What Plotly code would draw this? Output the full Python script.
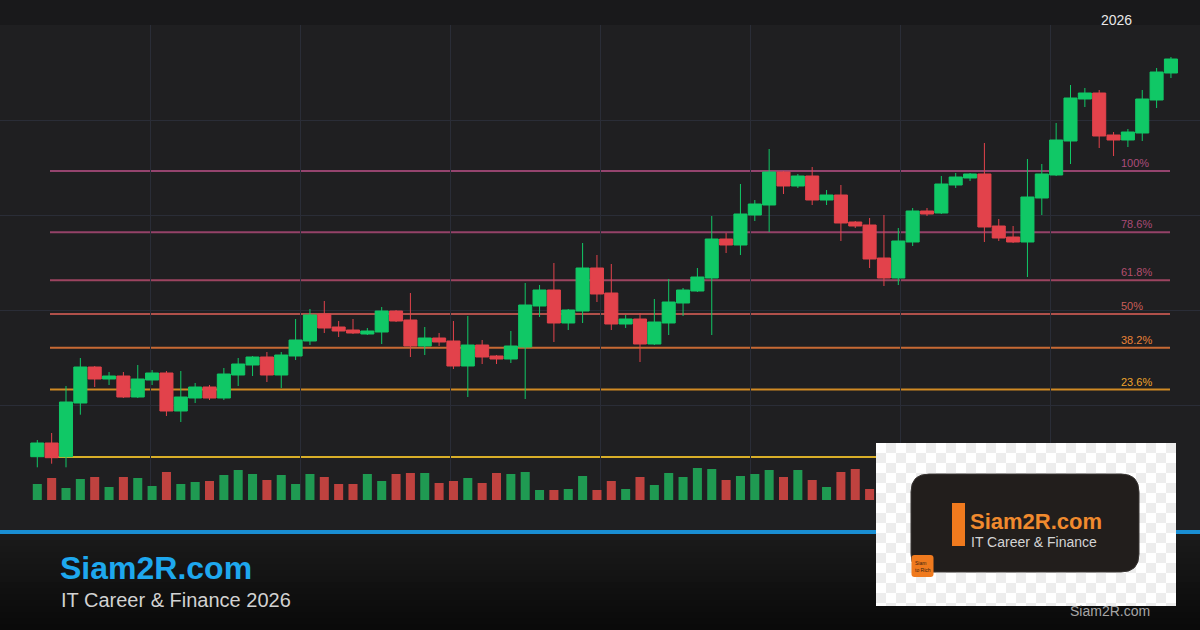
import plotly.graph_objects as go

W, H = 1200, 630

# ---------------- data ----------------
opens = [58.66, 61.4, 58.66, 69.4, 76.6, 74.2, 74.8, 70.6, 74.0, 75.4,
         67.8, 70.4, 72.6, 70.4, 75.0, 77.0, 78.6, 75.0, 78.8, 81.8,
         87.2, 84.6, 84.0, 83.2, 83.6, 87.8, 86.0, 80.8, 82.4, 81.8,
         76.8, 81.0, 78.8, 78.2, 80.6, 88.8, 92.0, 85.4, 87.8, 96.4,
         91.4, 85.2, 86.2, 81.2, 85.4, 89.4, 91.8, 94.4, 102.2, 101.0,
         107.0, 109.0, 115.6, 112.8, 114.8, 110.0, 111.0, 105.6, 105.0, 98.4,
         94.4, 101.6, 107.8, 107.4, 113.0, 114.4, 115.2, 104.8, 102.6, 101.6,
         110.4, 115.0, 121.8, 130.2, 131.4, 123.0, 122.0, 123.4, 130.0, 135.4]
highs = [62.0, 63.4, 72.8, 78.4, 76.8, 75.6, 75.6, 77.0, 76.0, 75.8,
         75.8, 73.4, 73.0, 76.4, 78.4, 78.8, 79.6, 79.6, 86.2, 88.2,
         89.8, 85.8, 86.2, 84.4, 88.6, 88.0, 91.4, 84.6, 83.4, 85.8,
         86.8, 82.0, 79.0, 83.8, 93.4, 93.0, 97.4, 88.2, 101.4, 99.0,
         97.2, 87.0, 87.4, 90.2, 94.2, 92.4, 96.4, 106.8, 103.4, 113.2,
         110.0, 120.2, 115.8, 115.2, 116.6, 112.0, 113.0, 105.8, 106.4, 107.0,
         104.4, 108.4, 108.4, 114.8, 115.4, 115.4, 121.4, 106.2, 104.8, 118.2,
         117.2, 125.4, 133.0, 132.4, 132.0, 123.6, 124.2, 132.0, 136.4, 138.6]
lows = [56.54, 57.26, 56.54, 67.06, 72.6, 73.0, 70.4, 70.4, 73.0, 66.8,
        65.6, 69.4, 70.0, 70.0, 72.8, 74.8, 73.6, 72.4, 78.0, 81.0,
        83.4, 82.6, 83.2, 83.0, 81.2, 85.6, 78.6, 79.0, 80.8, 76.2,
        70.6, 77.2, 77.2, 77.4, 70.2, 86.6, 81.6, 84.0, 85.4, 89.6,
        84.0, 84.4, 77.6, 81.0, 83.0, 86.8, 91.6, 83.0, 99.4, 99.0,
        105.8, 103.6, 111.2, 112.4, 109.0, 109.0, 101.8, 104.4, 96.4, 92.8,
        93.0, 100.8, 106.8, 107.2, 112.4, 113.8, 101.6, 101.8, 101.4, 94.6,
        107.0, 114.8, 117.2, 128.6, 120.4, 118.8, 120.6, 121.8, 128.4, 134.4]
closes = [61.4, 58.46, 69.6, 76.6, 74.2, 74.8, 70.6, 74.2, 75.4, 67.8,
          70.6, 72.6, 70.4, 75.2, 77.2, 78.6, 75.0, 79.0, 82.0, 87.0,
          84.4, 83.8, 83.4, 83.8, 87.8, 85.8, 80.8, 82.4, 81.6, 76.8,
          81.0, 78.6, 78.2, 80.8, 89.0, 92.0, 85.4, 88.0, 96.4, 91.2,
          85.2, 86.2, 81.2, 85.6, 89.6, 92.0, 94.6, 102.2, 101.0, 107.2,
          109.2, 115.6, 112.8, 114.8, 110.0, 111.0, 105.4, 104.8, 98.2, 94.4,
          101.8, 107.8, 107.2, 113.2, 114.6, 115.2, 104.6, 102.4, 101.6, 110.6,
          115.2, 122.0, 130.4, 131.4, 122.8, 122.0, 123.6, 130.2, 135.6, 138.2]
volumes = [1.6, 2.2, 1.2, 2.1, 2.3, 1.3, 2.3, 2.2, 1.4, 2.8,
           1.6, 1.8, 1.9, 2.5, 3.0, 2.6, 2.0, 2.5, 1.6, 2.6,
           2.3, 1.6, 1.6, 2.6, 1.9, 2.6, 2.7, 2.7, 1.7, 1.9,
           2.2, 1.7, 2.7, 2.6, 2.8, 1.0, 1.0, 1.1, 2.4, 1.0,
           1.9, 1.1, 2.3, 1.5, 2.7, 2.3, 3.2, 3.1, 2.0, 2.4,
           2.6, 3.0, 2.3, 3.0, 2.0, 1.3, 2.8, 3.1, 1.1, 2.0,
           1.8, 2.4, 1.2, 2.6, 1.5, 1.2, 3.0, 1.8, 1.4, 3.2,
           2.2, 2.8, 3.0, 1.4, 2.6, 1.5, 1.3, 2.4, 2.2, 2.2]

fib_low, fib_high = 58.6, 115.8
fib_ratios = [0.0, 0.236, 0.382, 0.5, 0.618, 0.786, 1.0]
fib_labels = ["", "23.6%", "38.2%", "50%", "61.8%", "78.6%", "100%"]
fib_colors = ["#d8ae28", "#d08a24", "#c86a34", "#b0504a", "#9c4460", "#944268", "#94446e"]
fib_text_colors = ["#f0bf30", "#eea42c", "#ea8238", "#c95e58", "#b44e6e", "#aa4b76", "#ac4d7c"]

year_label = "2026"
brand = "Siam2R.com"
subtitle = "IT Career & Finance 2026"
logo_title = "Siam2R.com"
logo_sub = "IT Career & Finance"

# ---------------- styling / geometry ----------------
UP, DOWN = "#10c866", "#e2424b"
VUP, VDOWN = "#1f9a52", "#bf423f"
GRID = "#2a2d37"
BG = "#1f1f21"

x = list(range(len(opens)))


def X(px):
    return px / W


def Y(py):
    return 1 - py / H


x0_px, step_px = 37.3, 14.35
x_range = [(0 - x0_px) / step_px, (W - x0_px) / step_px]
plot_top, plot_bot = 25, 500

fig = go.Figure()

vol_colors = [VUP if c >= o else VDOWN for o, c in zip(opens, closes)]
fig.add_trace(go.Bar(x=x, y=volumes, marker=dict(color=vol_colors, line=dict(width=0)),
                     width=0.63, yaxis="y2", hoverinfo="skip"))

fig.add_trace(go.Candlestick(
    x=x, open=opens, high=highs, low=lows, close=closes,
    increasing=dict(line=dict(color=UP, width=1), fillcolor=UP),
    decreasing=dict(line=dict(color=DOWN, width=1), fillcolor=DOWN),
    whiskerwidth=0, hoverinfo="skip"))

shapes = []
annotations = []

# top strip
shapes.append(dict(type="rect", xref="paper", yref="paper", x0=0, x1=1, y0=Y(plot_top), y1=1,
                   fillcolor="#19191b", line=dict(width=0), layer="below"))

# fibonacci lines
fx0 = (50 - x0_px) / step_px
fx1 = (1170 - x0_px) / step_px
lab_x = (1119 - x0_px) / step_px
for r, lab, col, tcol in zip(fib_ratios, fib_labels, fib_colors, fib_text_colors):
    lvl = fib_low + r * (fib_high - fib_low)
    shapes.append(dict(type="line", xref="x", yref="y", x0=fx0, x1=fx1, y0=lvl, y1=lvl,
                       line=dict(color=col, width=2), layer="below"))
    if lab:
        annotations.append(dict(x=lab_x, y=lvl, xref="x", yref="y", text=lab, showarrow=False,
                                xanchor="left", yanchor="bottom", yshift=0,
                                font=dict(family="Liberation Sans, Arial", size=11, color=tcol)))

# footer: blue rule + gradient
shapes.append(dict(type="rect", xref="paper", yref="paper", x0=0, x1=1, y0=Y(534), y1=Y(500),
                   fillcolor=BG, line=dict(width=0), layer="above"))
nb = 16
for k in range(nb):
    t = k / (nb - 1)
    c = int(27 - 17 * t)
    ya, yb = 534 + k * (96 / nb), 534 + (k + 1) * (96 / nb) + 0.5
    shapes.append(dict(type="rect", xref="paper", yref="paper", x0=0, x1=1, y0=Y(yb), y1=Y(ya),
                       fillcolor=f"rgb({c},{c},{c})", line=dict(width=0), layer="above"))
shapes.append(dict(type="rect", xref="paper", yref="paper", x0=0, x1=1, y0=Y(534), y1=Y(530),
                   fillcolor="#1a8fd4", line=dict(width=0), layer="above"))

# logo card with transparency checker
lx0, ly0, lx1, ly1 = 876, 443, 1176, 606
shapes.append(dict(type="rect", xref="paper", yref="paper", x0=X(lx0), x1=X(lx1), y0=Y(ly1), y1=Y(ly0),
                   fillcolor="#ffffff", line=dict(width=0), layer="above"))
cs = 10
yy = ly0
row = 0
while yy < ly1:
    xx = lx0
    col_i = 0
    while xx < lx1:
        if (row + col_i) % 2 == 1:
            shapes.append(dict(type="rect", xref="paper", yref="paper",
                               x0=X(xx), x1=X(min(xx + cs, lx1)), y0=Y(min(yy + cs, ly1)), y1=Y(yy),
                               fillcolor="#ededed", line=dict(width=0), layer="above"))
        xx += cs
        col_i += 1
    yy += cs
    row += 1


def rrect(x0, y0, x1, y1, r):
    return (f"M {X(x0 + r)},{Y(y0)} L {X(x1 - r)},{Y(y0)} Q {X(x1)},{Y(y0)} {X(x1)},{Y(y0 + r)} "
            f"L {X(x1)},{Y(y1 - r)} Q {X(x1)},{Y(y1)} {X(x1 - r)},{Y(y1)} "
            f"L {X(x0 + r)},{Y(y1)} Q {X(x0)},{Y(y1)} {X(x0)},{Y(y1 - r)} "
            f"L {X(x0)},{Y(y0 + r)} Q {X(x0)},{Y(y0)} {X(x0 + r)},{Y(y0)} Z")


shapes.append(dict(type="path", xref="paper", yref="paper", path=rrect(911, 474, 1139, 572, 18),
                   fillcolor="#221e1c", line=dict(color="#3a3634", width=1), layer="above"))
shapes.append(dict(type="rect", xref="paper", yref="paper", x0=X(952), x1=X(965), y0=Y(546), y1=Y(503),
                   fillcolor="#f07a1e", line=dict(width=0), layer="above"))
shapes.append(dict(type="path", xref="paper", yref="paper", path=rrect(911.5, 555, 933.5, 577, 3),
                   fillcolor="#f07a1e", line=dict(width=0), layer="above"))

annotations += [
    dict(x=X(1116), y=Y(20), xref="paper", yref="paper", text=year_label, showarrow=False,
         xanchor="center", yanchor="middle",
         font=dict(family="Liberation Sans, Arial", size=14, color="#e8e8e8")),
    dict(x=X(58), y=Y(568), xref="paper", yref="paper", text=f"<b>{brand}</b>", showarrow=False,
         xanchor="left", yanchor="middle",
         font=dict(family="Liberation Sans, Arial", size=32, color="#1ea8ee")),
    dict(x=X(59), y=Y(600), xref="paper", yref="paper", text=subtitle, showarrow=False,
         xanchor="left", yanchor="middle",
         font=dict(family="Liberation Sans, Arial", size=20, color="#d2d2d2")),
    dict(x=X(968), y=Y(521), xref="paper", yref="paper", text=logo_title, showarrow=False,
         xanchor="left", yanchor="middle",
         font=dict(family="Liberation Sans, Arial", size=22, color="#f08a2e", weight=600)),
    dict(x=X(969), y=Y(541.5), xref="paper", yref="paper", text=logo_sub, showarrow=False,
         xanchor="left", yanchor="middle",
         font=dict(family="Liberation Sans, Arial", size=14, color="#d4d4d4")),
    dict(x=X(913), y=Y(566), xref="paper", yref="paper", text="Siam<br>to Rich", showarrow=False,
         xanchor="left", yanchor="middle", align="left",
         font=dict(family="Liberation Sans, Arial", size=5, color="#3b220e")),
    dict(x=X(1110), y=Y(611), xref="paper", yref="paper", text=brand, showarrow=False,
         xanchor="center", yanchor="middle",
         font=dict(family="Liberation Sans, Arial", size=14, color="#a6a6a6")),
]

fig.update_layout(
    width=W, height=H,
    margin=dict(l=0, r=0, t=0, b=0),
    paper_bgcolor=BG, plot_bgcolor=BG,
    showlegend=False,
    boxgap=0.09, boxgroupgap=0,
    xaxis=dict(range=x_range, domain=[0, 1], showticklabels=False, ticks="",
               showgrid=True, gridcolor=GRID, gridwidth=1,
               tick0=(150 - x0_px) / step_px, dtick=150 / step_px, tickmode="linear",
               zeroline=False, showline=False, rangeslider=dict(visible=False), fixedrange=True),
    yaxis=dict(range=[50, 145], domain=[Y(plot_bot), Y(plot_top)], showticklabels=False, ticks="",
               showgrid=True, gridcolor=GRID, gridwidth=1, tickmode="linear", tick0=50, dtick=19,
               zeroline=False, showline=False, fixedrange=True),
    yaxis2=dict(range=[0, 47.5], overlaying="y", showticklabels=False, showgrid=False,
                zeroline=False, showline=False, fixedrange=True),
    shapes=shapes,
    annotations=annotations,
)

fig.write_html("out.html", config={"displayModeBar": False},
               post_script="document.body.style.margin='0';document.body.style.overflow='hidden';")
